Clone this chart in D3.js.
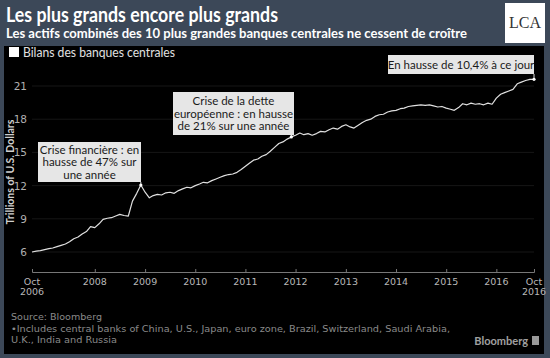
<!DOCTYPE html>
<html><head><meta charset="utf-8">
<script src="https://cdn.jsdelivr.net/npm/d3@7"></script>
<style>body{margin:0;background:#3c4858;}svg{display:block;}</style>
</head><body>
<script>
// ---- data ----
const startDate = "2006-10-01";
const values = [
 6.00,6.08,6.12,6.22,6.30,6.36,6.48,6.60,6.72,6.92,7.20,7.35,7.62,7.85,8.30,8.20,8.55,8.95,9.05,9.10,
 9.25,9.40,9.30,9.25,10.60,11.30,12.05,11.40,10.90,11.10,11.20,11.15,11.35,11.40,11.30,11.55,11.70,11.85,11.80,12.00,
 12.15,12.30,12.25,12.45,12.60,12.75,12.90,13.00,13.05,13.20,13.45,13.75,14.05,14.30,14.40,14.65,14.80,15.10,15.45,15.80,
 15.95,16.20,16.40,16.55,16.75,16.60,16.70,16.55,16.70,16.90,16.85,17.05,17.20,17.10,17.35,17.50,17.30,17.20,17.45,17.70,
 17.90,18.00,18.25,18.40,18.45,18.65,18.75,18.80,18.95,19.00,19.15,19.20,19.25,19.30,19.25,19.30,19.20,19.10,19.15,19.00,
 18.90,18.80,19.05,19.40,19.30,19.45,19.35,19.40,19.30,19.45,19.35,19.90,20.25,20.40,20.55,20.70,21.20,21.35,21.50,21.60,
 21.60];
const yTicks = [6,9,12,15,18,21];
const xTickLabels = [["Oct","2006"],["2008"],["2009"],["2010"],["2011"],["2012"],["2013"],["2014"],["2015"],["2016"],["Oct","2016"]];
const xTickDates = ["2006-10-01","2008-01-01","2009-01-01","2010-01-01","2011-01-01","2012-01-01","2013-01-01","2014-01-01","2015-01-01","2016-01-01","2016-10-01"];
const title = "Les plus grands encore plus grands";
const subtitle = "Les actifs combinés des 10 plus grandes banques centrales ne cessent de croître";
const legendLabel = "Bilans des banques centrales";
const yTitle = "Trillions of U.S. Dollars";
const notes = ["Source: Bloomberg","\u2022Includes central banks of China, U.S., Japan, euro zone, Brazil, Switzerland, Saudi Arabia,","U.K., India and Russia"];
const annotations = [
  {lines:["Crise financière : en","hausse de 47% sur","une année"], month:26},
  {lines:["Crise de la dette","européenne : en hausse","de 21% sur une année"], month:62},
  {lines:["En hausse de 10,4% à ce jour"], month:120}
];

// ---- build ----
const parse = d3.timeParse("%Y-%m-%d");
const t0 = parse(startDate);
const data = values.map((v,i)=>({date:d3.timeMonth.offset(t0,i), v}));

const W=550,H=358;
const svg = d3.select("body").append("svg").attr("width",W).attr("height",H);
svg.append("rect").attr("width",W).attr("height",H).attr("fill","#3c4858");
svg.append("rect").attr("x",4).attr("y",46).attr("width",540).attr("height",308).attr("fill","#000");

// header
svg.append("text").attr("x",6).attr("y",22).text(title)
  .attr("fill","#fff").attr("font-family","Lato").attr("font-weight","bold").attr("font-size",20)
  .attr("textLength",272).attr("lengthAdjust","spacingAndGlyphs");
svg.append("text").attr("x",6).attr("y",38).text(subtitle)
  .attr("fill","#fff").attr("font-family","Lato").attr("font-weight","bold").attr("font-size",12.5)
  .attr("textLength",461).attr("lengthAdjust","spacingAndGlyphs");
// LCA logo
svg.append("rect").attr("x",505).attr("y",3).attr("width",40).attr("height",40).attr("fill","#fff");
svg.append("text").attr("x",525).attr("y",28).attr("text-anchor","middle").text("LCA")
  .attr("fill","#333").attr("font-family","Liberation Serif").attr("font-size",16);

// legend
svg.append("rect").attr("x",9).attr("y",47).attr("width",10).attr("height",10).attr("fill","#fff");
svg.append("text").attr("x",23).attr("y",57).text(legendLabel)
  .attr("fill","#e0e0e0").attr("font-family","Lato").attr("font-size",12.5)
  .attr("textLength",152).attr("lengthAdjust","spacingAndGlyphs");

// scales
const x = d3.scaleTime().domain([parse("2006-10-01"),parse("2016-10-01")]).range([32,534]);
const y = d3.scaleLinear().domain([6,21]).range([252,86]);

// grid
svg.append("g").selectAll("line").data(yTicks).join("line")
  .attr("x1",32).attr("x2",534).attr("y1",d=>y(d)).attr("y2",d=>y(d))
  .attr("stroke","#161616").attr("stroke-width",1);

// y axis labels
svg.append("g").selectAll("text").data(yTicks).join("text")
  .attr("x",27).attr("y",d=>y(d)+4).attr("text-anchor","end").text(d=>d)
  .attr("fill","#b0b0b0").attr("font-family","DejaVu Sans").attr("font-size",10.5);
svg.append("text").attr("transform","translate(14,172) rotate(-90)").attr("text-anchor","middle")
  .text(yTitle).attr("fill","#cfcfcf").attr("font-family","Lato").attr("font-weight","bold").attr("font-size",10.5);

// x axis
const xAxis = d3.axisBottom(x).tickValues(xTickDates.map(parse)).tickSize(-3).tickFormat("");
const gx = svg.append("g").attr("transform","translate(0,272)").call(xAxis);
gx.select(".domain").attr("stroke","#777");
gx.selectAll(".tick line").attr("stroke","#777");
xTickDates.forEach((d,i)=>{
  xTickLabels[i].forEach((l,j)=>{
    svg.append("text").attr("x",x(parse(d))).attr("y",285+j*10).attr("text-anchor","middle").text(l)
      .attr("fill","#b8b8b8").attr("font-family","DejaVu Sans").attr("font-size",9.5);
  });
});

// line
const line = d3.line().x(d=>x(d.date)).y(d=>y(d.v));
svg.append("path").datum(data).attr("d",line).attr("fill","none")
  .attr("stroke","#e0e0e0").attr("stroke-width",1.2).attr("stroke-linejoin","round");

// annotations
const boxes = [
  {x:38,y:142,w:103,h:40},
  {x:173,y:92,w:121,h:43},
  {x:388,y:55,w:146,h:19}
];
annotations.forEach((a,i)=>{
  const b = boxes[i];
  const pt = data[a.month];
  svg.append("line").attr("x1",x(pt.date)).attr("x2",x(pt.date)).attr("y1",b.y+b.h).attr("y2",y(pt.v))
    .attr("stroke","#ddd").attr("stroke-width",1);
  svg.append("circle").attr("cx",x(pt.date)).attr("cy",y(pt.v)).attr("r",1.6).attr("fill","#fff");
  svg.append("rect").attr("x",b.x).attr("y",b.y).attr("width",b.w).attr("height",b.h).attr("fill","#e6e6e6");
  const n = a.lines.length;
  const lh = 12.5;
  const y0 = b.y + b.h/2 - (n-1)*lh/2 + 4;
  a.lines.forEach((l,j)=>{
    svg.append("text").attr("x",b.x+b.w/2).attr("y",y0+j*lh).attr("text-anchor","middle").text(l)
      .attr("fill","#1a1a1a").attr("font-family","Lato").attr("font-size",11.5);
  });
});

// notes
const nl = [91, 439, 106];
notes.forEach((t,i)=>{
  svg.append("text").attr("x",11).attr("y",320+i*11.5).text(t)
    .attr("fill","#8a8a8a").attr("font-family","DejaVu Sans").attr("font-size",9.5)
    .attr("textLength",nl[i]).attr("lengthAdjust","spacingAndGlyphs");
});
svg.append("text").attr("x",528).attr("y",345).attr("text-anchor","end").text("Bloomberg")
  .attr("fill","#a0a0a0").attr("font-family","Lato").attr("font-weight","bold").attr("font-size",11);
svg.append("rect").attr("x",532).attr("y",336).attr("width",7).attr("height",9).attr("fill","#999");
</script>
</body></html>
